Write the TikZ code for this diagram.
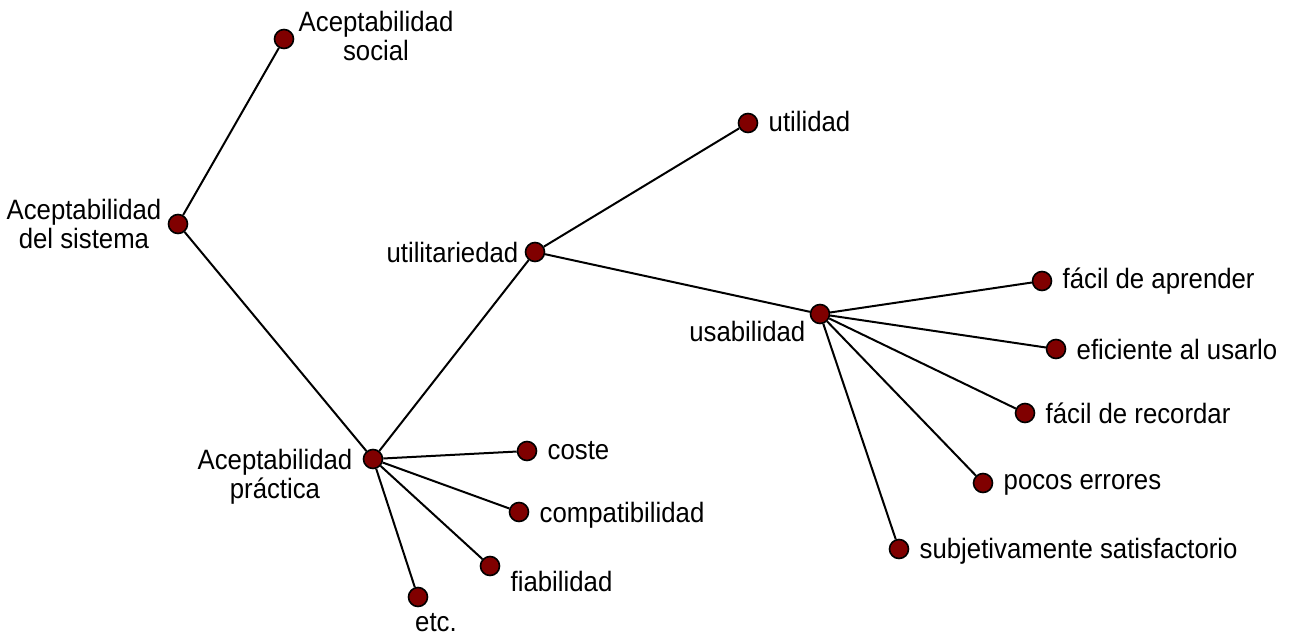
\documentclass[tikz,border=0pt]{standalone}
\usepackage{fontspec}
\setmainfont[FakeStretch=0.92]{Liberation Sans}
\usetikzlibrary{positioning}
\definecolor{darkred}{RGB}{128,0,0}

\begin{document}
\begin{tikzpicture}[x=0.5pt,y=-0.5pt,
    dot/.style={circle,draw=black,fill=darkred,line width=0.8pt,minimum size=9.5pt,inner sep=0pt},
    txt/.style={inner sep=1pt,font=\fontsize{14}{14.5}\selectfont,align=center},
    edge/.style={line width=1pt}]
    \useasboundingbox (0,0) rectangle (1290,637);
    % points
    \node[dot] (sist) at (178,224) {};
    \node[dot] (social) at (284,39) {};
    \node[dot] (pract) at (373,459) {};
    \node[dot] (utilit) at (535,252) {};
    \node[dot] (utilidad) at (748,123) {};
    \node[dot] (usab) at (820,314) {};
    \node[dot] (aprender) at (1042,281) {};
    \node[dot] (eficiente) at (1056,349) {};
    \node[dot] (recordar) at (1025,413) {};
    \node[dot] (errores) at (983,483) {};
    \node[dot] (satisf) at (899,549) {};
    \node[dot] (coste) at (527,451) {};
    \node[dot] (compat) at (519,512) {};
    \node[dot] (fiab) at (490,566) {};
    \node[dot] (etc) at (418,597) {};
    % labels
    \node[txt,right=1pt of social,yshift=1.5pt] (social-t) {Aceptabilidad\\social};
    \node[txt,left=2pt of sist] (sist-t) {Aceptabilidad\\del sistema};
    \node[txt,left=4pt of pract,yshift=-9pt] (pract-t) {Aceptabilidad\\práctica};
    \node[txt,left=2pt of utilit] (utilit-t) {utilitariedad};
    \node[txt,right=4pt of utilidad,yshift=1pt] (utilidad-t) {utilidad};
    \node[txt,left=1pt of usab,yshift=-8.5pt] (usab-t) {usabilidad};
    \node[txt,right=4pt of aprender] (aprender-t) {fácil de aprender};
    \node[txt,right=4pt of eficiente] (eficiente-t) {eficiente al usarlo};
    \node[txt,right=4pt of recordar] (recordar-t) {fácil de recordar};
    \node[txt,right=4pt of errores,yshift=-1pt] (errores-t) {pocos errores};
    \node[txt,right=4pt of satisf,yshift=-1pt] (satisf-t) {subjetivamente satisfactorio};
    \node[txt,right=4pt of coste] (coste-t) {coste};
    \node[txt,right=4pt of compat,yshift=-1.5pt] (compat-t) {compatibilidad};
    \node[txt,right=4pt of fiab,yshift=-7.5pt] (fiab-t) {fiabilidad};
    \node[txt,below=2pt of etc,xshift=9pt] (etc-t) {etc.};
    % edges
    \foreach \a/\b in {sist/social, sist/pract, pract/utilit, utilit/utilidad, utilit/usab,
        usab/aprender, usab/eficiente, usab/recordar, usab/errores, usab/satisf,
        pract/coste, pract/compat, pract/fiab, pract/etc}
        \draw[edge] (\a) -- (\b);
\end{tikzpicture}
\end{document}
